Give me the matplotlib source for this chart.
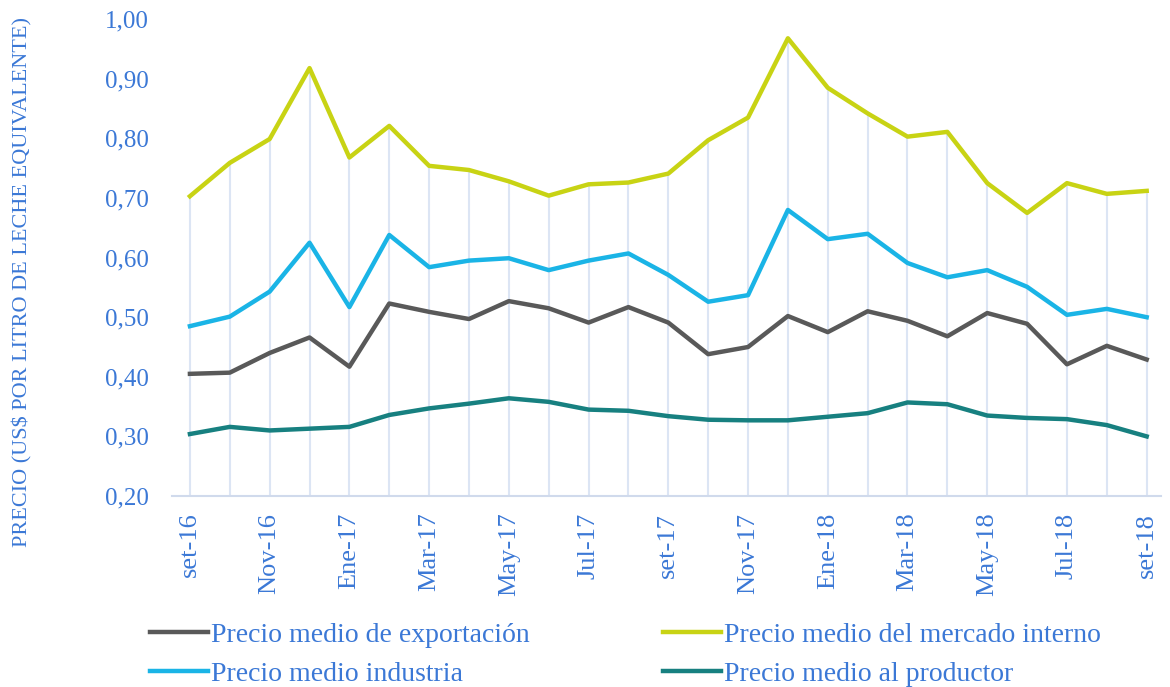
#!/usr/bin/env python3
"""Precios medios de la leche, set-16 a set-18."""

import matplotlib
matplotlib.use("Agg")
import matplotlib.pyplot as plt
from matplotlib.ticker import FuncFormatter

months = [
    "set-16", "oct-16", "Nov-16", "dic-16", "Ene-17", "feb-17", "Mar-17", "abr-17",
    "May-17", "jun-17", "Jul-17", "ago-17", "set-17", "oct-17", "Nov-17", "dic-17",
    "Ene-18", "feb-18", "Mar-18", "abr-18", "May-18", "jun-18", "Jul-18", "ago-18",
    "set-18",
]
exportacion = [
    0.405, 0.407, 0.440, 0.466, 0.417, 0.523, 0.509, 0.497, 0.527, 0.515, 0.491, 0.517,
    0.491, 0.438, 0.450, 0.502, 0.475, 0.510, 0.494, 0.468, 0.507, 0.489, 0.421, 0.452,
    0.429,
]
mercado_interno = [
    0.703, 0.759, 0.799, 0.918, 0.768, 0.821, 0.754, 0.747, 0.728, 0.704, 0.723, 0.726,
    0.741, 0.797, 0.835, 0.968, 0.885, 0.842, 0.803, 0.811, 0.725, 0.675, 0.725, 0.707,
    0.712,
]
industria = [
    0.485, 0.501, 0.543, 0.625, 0.517, 0.638, 0.584, 0.595, 0.599, 0.579, 0.595, 0.607,
    0.571, 0.526, 0.537, 0.680, 0.631, 0.640, 0.591, 0.567, 0.579, 0.551, 0.504, 0.514,
    0.500,
]
productor = [
    0.304, 0.316, 0.310, 0.313, 0.316, 0.336, 0.347, 0.355, 0.364, 0.358, 0.345, 0.343,
    0.334, 0.328, 0.327, 0.327, 0.333, 0.339, 0.357, 0.354, 0.335, 0.331, 0.329, 0.319,
    0.300,
]

TEXT_BLUE = "#3B78D6"
plt.rcParams["font.family"] = ["Liberation Serif", "DejaVu Serif"]

fig = plt.figure(figsize=(11.7, 6.87), dpi=100)
ax = fig.add_axes([0.147, 0.278, 0.845, 0.694])

x = list(range(len(months)))
top = [max(vals) for vals in zip(exportacion, mercado_interno, industria, productor)]
ax.vlines(x, 0.20, top, color="#DCE5F4", linewidth=1.5, zorder=1)

ax.plot(x, exportacion, color="#595959", linewidth=3.2, label="Precio medio de exportación", zorder=3)
ax.plot(x, industria, color="#1AB4E6", linewidth=3.2, label="Precio medio industria", zorder=3)
ax.plot(x, mercado_interno, color="#C8D314", linewidth=3.2, label="Precio medio del mercado interno", zorder=3)
ax.plot(x, productor, color="#178080", linewidth=3.2, label="Precio medio al productor", zorder=3)

ax.set_xlim(-0.45, 24.35)
ax.set_ylim(0.20, 1.00)
ax.set_yticks([0.2, 0.3, 0.4, 0.5, 0.6, 0.7, 0.8, 0.9, 1.0])
ax.yaxis.set_major_formatter(FuncFormatter(lambda v, _: f"{v:.2f}".replace(".", ",")))
ax.set_xticks(x[::2])
ax.set_xticklabels(months[::2], rotation=90)

for side in ("top", "right", "left"):
    ax.spines[side].set_visible(False)
ax.spines["bottom"].set_color("#D0DAEC")
ax.spines["bottom"].set_linewidth(1.5)
ax.tick_params(axis="both", length=0, labelcolor=TEXT_BLUE)
ax.tick_params(axis="y", pad=17, labelsize=18)
ax.tick_params(axis="x", pad=12, labelsize=19)

fig.text(0.019, 0.59, "PRECIO (US$ POR LITRO DE LECHE EQUIVALENTE)", rotation=90,
         color=TEXT_BLUE, fontsize=16, ha="center", va="center")

handles, labels = ax.get_legend_handles_labels()
leg = fig.legend(handles, labels, ncol=2, loc="upper left", bbox_to_anchor=(0.128, 0.094),
                 frameon=False, fontsize=20, handlelength=2.1, handletextpad=0.1,
                 columnspacing=4.8, labelspacing=0.5, borderpad=0, borderaxespad=0,
                 labelcolor=TEXT_BLUE)

fig.savefig("out.png", dpi=100)
